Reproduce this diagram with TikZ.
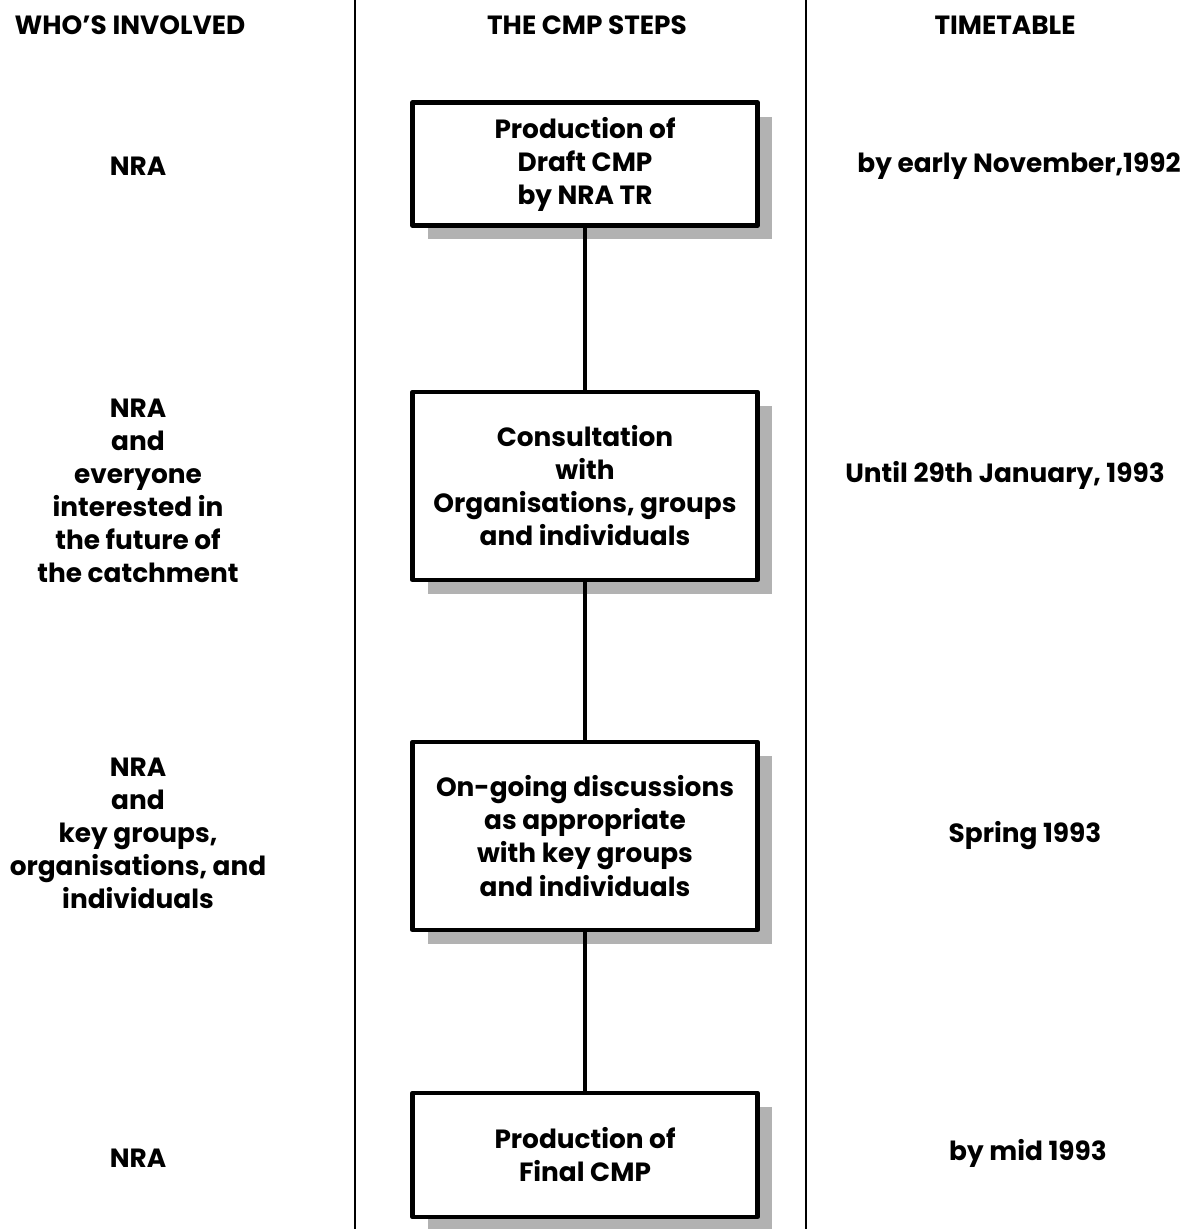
\documentclass[tikz,border=0pt]{standalone}
\usepackage{fontspec}
\setmainfont{Poppins}
\usetikzlibrary{shadows}

\begin{document}
\begin{tikzpicture}[x=0.02cm, y=-0.02cm, font=\fontsize{15}{18.8}\selectfont\bfseries, line join=round, line cap=round,
	stepbox/.style={draw, line width=2.5pt, fill=white, align=center, minimum width=6.9cm,
		drop shadow={shadow xshift=0.3cm, shadow yshift=-0.28cm, fill=gray!60, opacity=1}},
	who/.style={align=center},
	when/.style={align=center},
	head/.style={font=\fontsize{15}{17}\selectfont\bfseries}]
	\useasboundingbox (0,0) rectangle (1197,1229);
	% column rules
	\draw[line width=1.6pt] (355,0) -- (355,1229);
	\draw[line width=1.6pt] (806,0) -- (806,1229);
	% headings
	\node[head] (hwho) at (130,25) {WHO'S INVOLVED};
	\node[head] (hsteps) at (587,25) {THE CMP STEPS};
	\node[head] (htime) at (1005,25) {TIMETABLE};
	% the steps
	\node[stepbox, minimum height=2.46cm] (draft) at (585,164) {Production of\\Draft CMP\\by NRA TR};
	\node[stepbox, minimum height=3.76cm] (consult) at (585,486) {Consultation\\with\\Organisations, groups\\and individuals};
	\node[stepbox, minimum height=3.76cm] (ongoing) at (585,836) {On-going discussions\\as appropriate\\with key groups\\and individuals};
	\node[stepbox, minimum height=2.48cm] (final) at (585,1155) {Production of\\Final CMP};
	\draw[line width=2.5pt] (draft) -- (consult);
	\draw[line width=2.5pt] (consult) -- (ongoing);
	\draw[line width=2.5pt] (ongoing) -- (final);
	% who is involved
	\node[who] (w1) at (138,166) {NRA};
	\node[who] (w2) at (138,491) {NRA\\and\\everyone\\interested in\\the future of\\the catchment};
	\node[who] (w3) at (138,833) {NRA\\and\\key groups,\\organisations, and\\individuals};
	\node[who] (w4) at (138,1158) {NRA};
	% timetable
	\node[when] (t1) at (1019,166) {by early November,1992};
	\node[when] (t2) at (1005,475) {Until 29th January, 1993};
	\node[when] (t3) at (1025,836) {Spring 1993};
	\node[when] (t4) at (1028,1153) {by mid 1993};
\end{tikzpicture}
\end{document}
